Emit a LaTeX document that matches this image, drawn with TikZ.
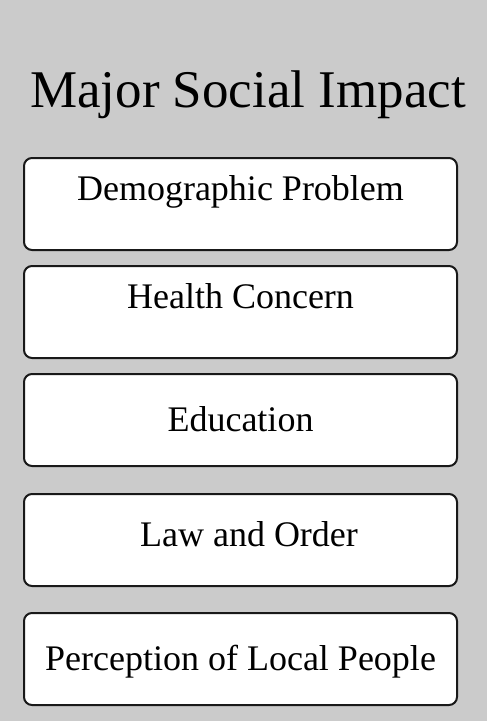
\documentclass[tikz,border=0pt]{standalone}
\usepackage{fontspec}
\setmainfont{Liberation Serif}
\usepackage{xcolor}
\usetikzlibrary{positioning}
\definecolor{panelGray}{RGB}{203,203,203}
\definecolor{boxLine}{RGB}{25,25,25}
\tikzset{
    titletext/.style={
        font=\fontsize{53}{60}\selectfont,
        inner sep=0pt,
        text=black
    },
    impactbox/.style={
        rectangle,
        draw=boxLine,
        line width=2pt,
        rounded corners=8pt,
        fill=white,
        align=center,
        inner sep=0pt,
        minimum width=433pt,
        minimum height=92pt,
        text height=22pt,
        text depth=0pt,
        font=\fontsize{36}{42}\selectfont
    },
    highbox/.style={text height=0pt, text depth=8pt}
}
\begin{document}
\begin{tikzpicture}[x=1pt, y=1pt, node distance=14pt]
    \fill[panelGray] (0,0) rectangle (487,-721);
    \useasboundingbox (0,0) rectangle (487,-721);
    \node[titletext, anchor=base] (title) at (248,-107) {Major Social Impact};
    \node[impactbox, highbox] (demo) at (240.5,-204) {Demographic Problem};
    \node[impactbox, highbox, below=of demo] (health) {Health Concern};
    \node[impactbox, below=of health] (edu) {Education};
    \node[impactbox, below=26pt of edu, text height=13pt] (law) {\hspace*{17pt}Law and Order};
    \node[impactbox, below=25pt of law] (local) {Perception of Local People};
\end{tikzpicture}
\end{document}
